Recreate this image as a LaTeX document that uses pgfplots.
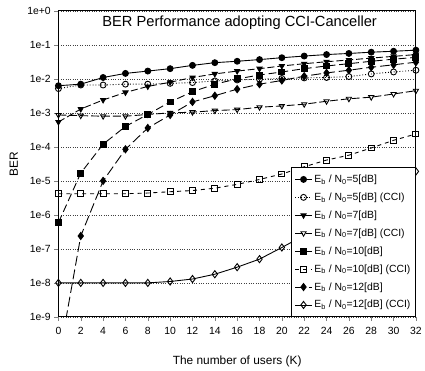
\documentclass[border=0pt]{standalone}
\usepackage{fontspec}
\setmainfont{Liberation Sans}
\usepackage{pgfplots}
\pgfplotsset{compat=1.18}
\begin{document}
\begin{tikzpicture}
\begin{axis}[
  width=361pt, height=309pt, scale only axis,
  xmin=0, xmax=32, ymode=log, ymin=1e-9, ymax=1,
  xtick={0,2,...,32},
  ytick={1e-9,1e-8,1e-7,1e-6,1e-5,1e-4,1e-3,1e-2,1e-1,1},
  yticklabels={1e-9,1e-8,1e-7,1e-6,1e-5,1e-4,1e-3,1e-2,1e-1,1e+0},
  yminorticks=false,
  /pgf/number format/assume math mode=true,
  tick label style={font=\fontsize{10.5}{12}\selectfont},
  xticklabel style={yshift=-3pt},
  xtick pos=bottom, ytick pos=left,
  tick align=outside,
  axis line style={line width=1pt},
  ymajorgrids, grid style={dotted, black!75, line width=0.6pt},
  xlabel={The number of users (K)},
  ylabel={BER},
  label style={font=\fontsize{12}{14}\selectfont},
  xlabel style={at={(axis description cs:0.5,-0.146)}, anchor=center},
  ylabel style={at={(axis description cs:-0.125,0.5)}, anchor=center},
  every axis plot/.append style={black, line width=0.9pt, mark size=3pt},
  legend cell align=left,
  legend style={at={(1,0)}, anchor=south east, draw=black, line width=1pt,
    fill=white, font=\fontsize{10.5}{12}\selectfont, row sep=5pt,
    inner xsep=3pt, inner ysep=5pt},
]
\addplot[solid, mark=*, mark options={solid, fill=black}] coordinates {
(0,6.3e-3)(2,7e-3)(4,1.1e-2)(6,1.45e-2)(8,1.7e-2)(10,2e-2)(12,2.5e-2)(14,3e-2)(16,3.3e-2)(18,3.7e-2)(20,4.2e-2)(22,4.7e-2)(24,5.2e-2)(26,5.6e-2)(28,6.1e-2)(30,6.5e-2)(32,7e-2)};
\addlegendentry{E\textsubscript{b} / N\textsubscript{0}=5[dB]}
\addplot[dotted, mark=o, mark options={solid, fill=white}] coordinates {
(0,5.2e-3)(2,6.6e-3)(4,6.6e-3)(6,7e-3)(8,7e-3)(10,7.4e-3)(12,7.8e-3)(14,8.7e-3)(16,9.3e-3)(18,9.8e-3)(20,1.03e-2)(22,1.07e-2)(24,1.1e-2)(26,1.17e-2)(28,1.4e-2)(30,1.6e-2)(32,1.8e-2)};
\addlegendentry{E\textsubscript{b} / N\textsubscript{0}=5[dB] (CCI)}
\addplot[dash pattern=on 7pt off 3pt, mark=triangle*, mark options={solid, fill=black, rotate=180}] coordinates {
(0,5.4e-4)(2,1.3e-3)(4,2.4e-3)(6,4e-3)(8,6e-3)(10,8e-3)(12,1.1e-2)(14,1.4e-2)(16,1.7e-2)(18,2e-2)(20,2.4e-2)(22,2.8e-2)(24,3.2e-2)(26,3.6e-2)(28,4.1e-2)(30,4.6e-2)(32,5.2e-2)};
\addlegendentry{E\textsubscript{b} / N\textsubscript{0}=7[dB]}
\addplot[dash pattern=on 8pt off 3pt, mark=triangle, mark options={solid, fill=white, rotate=180}] coordinates {
(0,8.7e-4)(2,8.3e-4)(4,8e-4)(6,8e-4)(8,9e-4)(10,1e-3)(12,1.05e-3)(14,1.17e-3)(16,1.25e-3)(18,1.47e-3)(20,1.6e-3)(22,1.8e-3)(24,2.2e-3)(26,2.6e-3)(28,2.9e-3)(30,3.6e-3)(32,4.5e-3)};
\addlegendentry{E\textsubscript{b} / N\textsubscript{0}=7[dB] (CCI)}
\addplot[dash pattern=on 8pt off 4pt, mark=square*, mark options={solid, fill=black}] coordinates {
(0,5.9e-7)(2,1.7e-5)(4,1.2e-4)(6,4e-4)(8,9e-4)(10,2.1e-3)(12,4.2e-3)(14,7e-3)(16,1e-2)(18,1.3e-2)(20,1.6e-2)(22,2e-2)(24,2.4e-2)(26,2.8e-2)(28,3.3e-2)(30,3.8e-2)(32,4.3e-2)};
\addlegendentry{E\textsubscript{b} / N\textsubscript{0}=10[dB]}
\addplot[dash pattern=on 4pt off 4pt, mark=square, mark options={solid, fill=white}] coordinates {
(0,4.2e-6)(2,4.2e-6)(4,4.2e-6)(6,4.2e-6)(8,4.4e-6)(10,4.8e-6)(12,5.2e-6)(14,6.1e-6)(16,7.9e-6)(18,1.1e-5)(20,1.6e-5)(22,2.6e-5)(24,4.1e-5)(26,5.7e-5)(28,9.3e-5)(30,1.56e-4)(32,2.4e-4)};
\addlegendentry{E\textsubscript{b} / N\textsubscript{0}=10[dB] (CCI)}
\addplot[dash pattern=on 10pt off 4pt, mark=diamond*, mark size=3.6pt, mark options={solid, fill=black}] coordinates {
(0,5e-11)(2,2.4e-7)(4,1e-5)(6,8.5e-5)(8,3.6e-4)(10,8.7e-4)(12,2.1e-3)(14,3.2e-3)(16,5e-3)(18,7e-3)(20,9e-3)(22,1.2e-2)(24,1.5e-2)(26,1.8e-2)(28,2.2e-2)(30,2.6e-2)(32,3.1e-2)};
\addlegendentry{E\textsubscript{b} / N\textsubscript{0}=12[dB]}
\addplot[solid, mark=diamond, mark size=3.6pt, mark options={solid, fill=white}] coordinates {
(0,1e-8)(2,1e-8)(4,1e-8)(6,1e-8)(8,1e-8)(10,1.1e-8)(12,1.3e-8)(14,1.8e-8)(16,2.9e-8)(18,5e-8)(20,1.1e-7)(22,2.5e-7)(24,5.6e-7)(26,1.26e-6)(28,3.2e-6)(30,7.9e-6)(32,1.9e-5)};
\addlegendentry{E\textsubscript{b} / N\textsubscript{0}=12[dB] (CCI)}
\node[font=\fontsize{14.8}{17}\selectfont] at (rel axis cs:0.507,0.962) {BER Performance adopting CCI-Canceller};
\end{axis}
\path (-59pt,-54pt) (366pt,320pt);
\end{tikzpicture}
\end{document}
